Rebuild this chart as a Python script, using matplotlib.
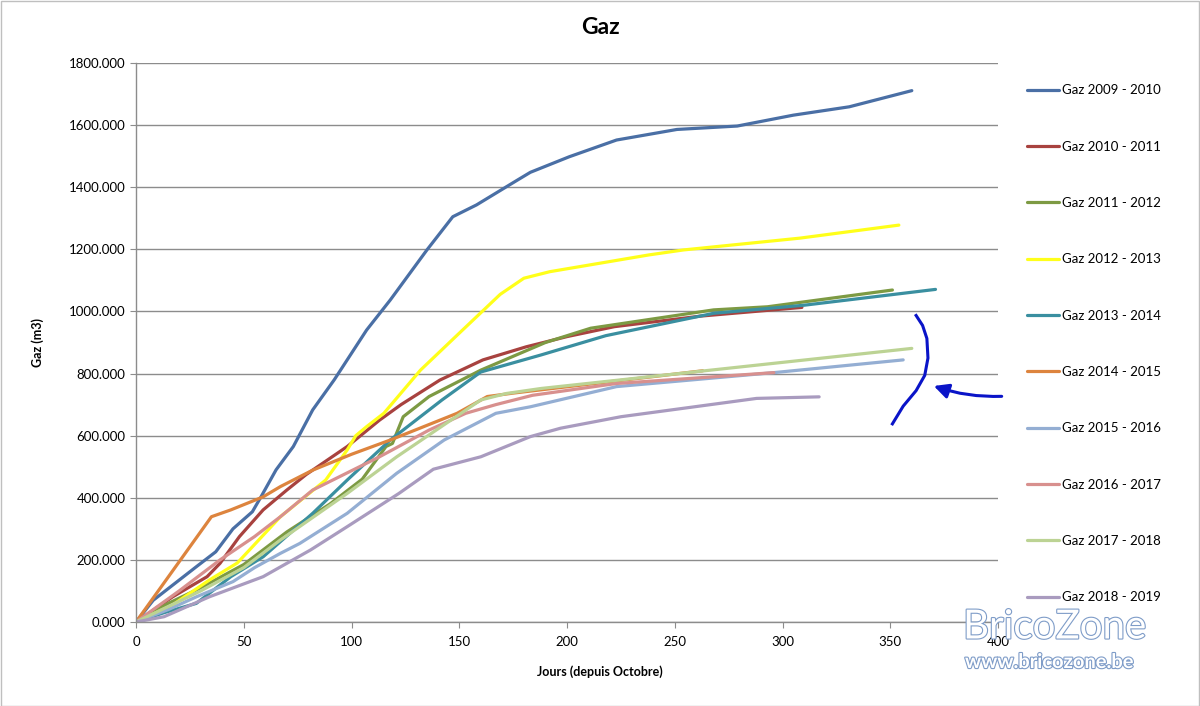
import matplotlib
matplotlib.use("Agg")
import matplotlib.pyplot as plt
import matplotlib.patheffects as pe
from matplotlib.patches import Rectangle
from matplotlib.ticker import FuncFormatter, MultipleLocator

plt.rcParams['font.family'] = ['Lato', 'DejaVu Sans']

# ---------------- data (days since October, cumulative m3) ----------------
days_0910 = [0, 8, 28, 37, 45, 54, 58, 65, 73, 82, 92, 107, 118, 135, 147, 158, 177, 183, 201, 223, 251, 279, 305, 331, 360]
gaz_0910 = [0, 70, 178, 226, 300, 355, 403, 490, 565, 683, 780, 940, 1037, 1198, 1305, 1343, 1423, 1448, 1498, 1552, 1586, 1597, 1632, 1659, 1711]

days_1011 = [0, 17, 33, 39, 48, 59, 70, 79, 98, 113, 123, 141, 161, 181, 200, 222, 262, 309]
gaz_1011 = [0, 81, 146, 189, 275, 361, 425, 475, 565, 650, 700, 779, 844, 886, 919, 951, 985, 1013]

days_1112 = [0, 15, 30, 50, 70, 90, 105, 116, 119, 124, 136, 160, 190, 211, 268, 293, 351]
gaz_1112 = [0, 60, 110, 185, 290, 380, 460, 565, 575, 661, 726, 811, 900, 946, 1005, 1015, 1069]

days_1213 = [0, 17, 34, 47, 54, 67, 88, 98, 102, 107, 115, 132, 150, 169, 180, 192, 238, 254, 308, 354]
gaz_1213 = [0, 55, 135, 190, 242, 339, 457, 554, 600, 629, 672, 811, 930, 1055, 1107, 1128, 1182, 1198, 1236, 1278]

days_1314 = [0, 13, 28, 44, 59, 82, 98, 118, 142, 160, 188, 218, 268, 310, 371]
gaz_1314 = [0, 30, 60, 146, 210, 350, 457, 586, 715, 805, 860, 922, 994, 1020, 1071]

days_1415 = [0, 35, 44, 59, 67, 82, 100, 118, 149, 163, 175, 263]
gaz_1415 = [0, 339, 361, 403, 436, 489, 540, 586, 672, 726, 737, 809]

days_1516 = [0, 15, 28, 45, 55, 67, 76, 98, 121, 143, 167, 183, 223, 296, 356]
gaz_1516 = [0, 40, 81, 130, 175, 221, 253, 350, 479, 586, 672, 693, 758, 803, 844]

days_1617 = [0, 20, 39, 55, 67, 82, 113, 136, 153, 167, 184, 223, 296]
gaz_1617 = [0, 100, 200, 275, 339, 425, 532, 618, 672, 700, 730, 768, 803]

days_1718 = [0, 15, 30, 50, 67, 98, 121, 144, 160, 172, 188, 360]
gaz_1718 = [0, 50, 100, 175, 264, 414, 532, 640, 715, 736, 752, 881]

days_1819 = [0, 13, 34, 59, 81, 98, 122, 138, 160, 183, 197, 225, 288, 317]
gaz_1819 = [0, 17, 81, 146, 232, 307, 414, 492, 532, 597, 624, 661, 720, 725]

labels = ["Gaz 2009 - 2010", "Gaz 2010 - 2011", "Gaz 2011 - 2012", "Gaz 2012 - 2013",
          "Gaz 2013 - 2014", "Gaz 2014 - 2015", "Gaz 2015 - 2016", "Gaz 2016 - 2017",
          "Gaz 2017 - 2018", "Gaz 2018 - 2019"]
colors = ["#4A6FA5", "#A8423F", "#7D9A43", "#FFFF1A", "#3A8FA0",
          "#DD843E", "#94AED3", "#D8908E", "#BCD394", "#A99BBF"]
series_x = [days_0910, days_1011, days_1112, days_1213, days_1314,
            days_1415, days_1516, days_1617, days_1718, days_1819]
series_y = [gaz_0910, gaz_1011, gaz_1112, gaz_1213, gaz_1314,
            gaz_1415, gaz_1516, gaz_1617, gaz_1718, gaz_1819]

# ---------------- figure ----------------
W, H = 1200, 706
fig = plt.figure(figsize=(W / 100, H / 100), dpi=100)
ax = fig.add_axes([136 / W, 1 - 622 / H, (998 - 136) / W, (622 - 63) / H])

for x, y, c, lab in zip(series_x, series_y, colors, labels):
    ax.plot(x, y, color=c, lw=2.3, label=lab, solid_joinstyle='round', solid_capstyle='round')

ax.set_xlim(0, 400)
ax.set_ylim(0, 1800)
ax.xaxis.set_major_locator(MultipleLocator(50))
ax.yaxis.set_major_locator(MultipleLocator(200))
ax.yaxis.set_major_formatter(FuncFormatter(lambda v, p: f"{v:.3f}"))
ax.grid(axis='y', color='#8C8C8C', lw=1)
ax.set_axisbelow(True)
for s in ['top', 'right']:
    ax.spines[s].set_visible(False)
for s in ['left', 'bottom']:
    ax.spines[s].set_color('#8C8C8C')
    ax.spines[s].set_linewidth(1)
ax.tick_params(axis='both', colors='#8C8C8C', labelcolor='black', labelsize=9.5, length=4)
ax.tick_params(axis='x', pad=6)

# title and x label are centred on the whole chart, as in Excel
fig.text(0.5, 1 - 28 / H, "Gaz", fontsize=16.5, fontweight='bold', ha='center', va='center')
fig.text(0.5, 1 - 672 / H, "Jours (depuis Octobre)", fontsize=9, fontweight='bold', ha='center', va='center')
ax.set_ylabel("Gaz (m3)", fontsize=9, fontweight='bold', labelpad=18)

leg = ax.legend(loc='upper left', bbox_to_anchor=(1022 / W, 1 - 79 / H), bbox_transform=fig.transFigure,
                frameon=False, fontsize=9.5, labelspacing=3.36, handlelength=2.4,
                handletextpad=0.2, borderaxespad=0)
for l in leg.get_lines():
    l.set_linewidth(2.3)

# hand-drawn bracket and arrow annotation (blue ink)
ink = '#0A14C8'
ax.plot([351, 356, 362, 366, 367.5, 367, 365, 362], [638, 695, 745, 794, 850, 913, 955, 987],
        color=ink, lw=2.2, clip_on=False)
ax.annotate("", xy=(369, 763), xytext=(403, 727), xycoords='data',
            arrowprops=dict(arrowstyle='-|>', color=ink, lw=2.2, mutation_scale=22,
                            connectionstyle='arc3,rad=-0.1'), annotation_clip=False)

# watermark
fig.text(963 / W, 1 - 627 / H, "BricoZone", fontsize=29, color='white', va='center', ha='left',
         path_effects=[pe.withStroke(linewidth=1.6, foreground='#7E9CC8')])
fig.text(965 / W, 1 - 662 / H, "www.bricozone.be", fontsize=14.5, color='white', va='center', ha='left',
         fontweight='bold', path_effects=[pe.withStroke(linewidth=1.6, foreground='#7E9CC8')])

# chart border
fig.patches.append(Rectangle((0.5 / W, 0.5 / H), 1 - 2 / W, 1 - 1.5 / H, transform=fig.transFigure,
                             fill=False, edgecolor='#BFBFBF', lw=1))

fig.savefig("out.png", dpi=100)
